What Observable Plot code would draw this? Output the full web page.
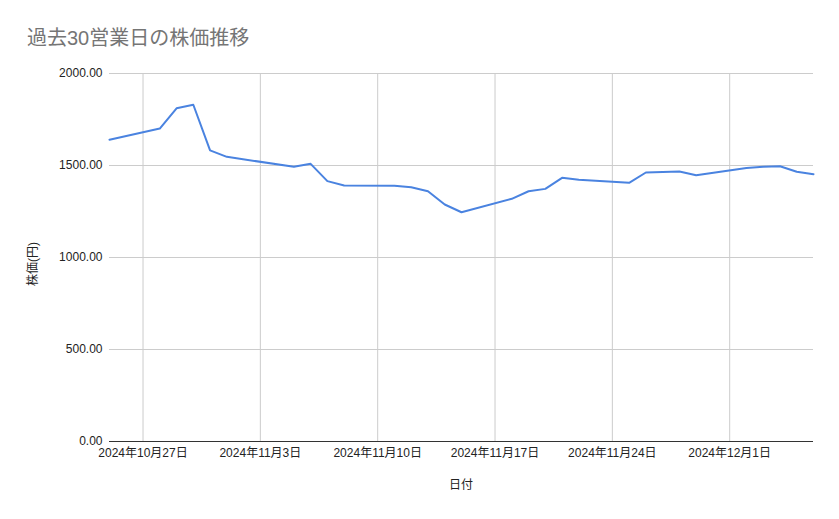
<!DOCTYPE html>
<html><head><meta charset="utf-8">
<script src="https://cdn.jsdelivr.net/npm/d3@7"></script>
<script src="https://cdn.jsdelivr.net/npm/@observablehq/plot@0.6"></script>
<style>
body{margin:0;background:#fff;}
#wrap{position:relative;width:839px;height:519px;font-family:"Liberation Sans","Noto Sans CJK JP",sans-serif;}
#title{position:absolute;left:27px;top:26px;font-size:20px;line-height:24px;color:#757575;white-space:nowrap;}
#xlabel{position:absolute;left:461px;top:478px;transform:translateX(-50%);font-size:12px;line-height:14px;color:#222;white-space:nowrap;}
#ylabel{position:absolute;left:33px;top:264px;transform:translate(-50%,-50%) rotate(-90deg);font-size:12px;line-height:14px;color:#222;white-space:nowrap;}
#chart{position:absolute;left:0;top:0;}
</style></head>
<body>
<div id="wrap">
  <div id="chart"></div>
  <div id="title">過去30営業日の株価推移</div>
  <div id="xlabel">日付</div>
  <div id="ylabel">株価(円)</div>
</div>
<script>
const dates = ["2024-10-25","2024-10-28","2024-10-29","2024-10-30","2024-10-31","2024-11-01",
  "2024-11-05","2024-11-06","2024-11-07","2024-11-08",
  "2024-11-11","2024-11-12","2024-11-13","2024-11-14","2024-11-15",
  "2024-11-18","2024-11-19","2024-11-20","2024-11-21","2024-11-22",
  "2024-11-25","2024-11-26","2024-11-27","2024-11-28","2024-11-29",
  "2024-12-02","2024-12-03","2024-12-04","2024-12-05","2024-12-06"];
const prices = [1640,1701,1811,1830,1582,1547,
  1493,1509,1415,1391,
  1390,1382,1360,1288,1246,
  1319,1360,1373,1433,1422,
  1406,1462,1465,1467,1447,
  1487,1493,1496,1466,1453];
const xTicks = ["2024-10-27","2024-11-03","2024-11-10","2024-11-17","2024-11-24","2024-12-01"];
const yTicks = [0,500,1000,1500,2000];

const data = dates.map((d,i)=>({date:new Date(d+"T00:00:00Z"), price:prices[i]}));
const xt = xTicks.map(d=>new Date(d+"T00:00:00Z"));
const fmtDate = d => `${d.getUTCFullYear()}年${d.getUTCMonth()+1}月${d.getUTCDate()}日`;

const chart = Plot.plot({
  width: 839, height: 519,
  marginLeft: 109, marginRight: 26, marginTop: 73, marginBottom: 78,
  style: {fontFamily: '"Liberation Sans","Noto Sans CJK JP",sans-serif', fontSize: "12px", color: "#222", background: "#fff"},
  x: {type: "utc", domain: [data[0].date, data[data.length-1].date]},
  y: {domain: [0, 2000]},
  marks: [
    Plot.gridX(xt, {stroke: "#cccccc", strokeOpacity: 1}),
    Plot.gridY(yTicks.filter(v=>v>0), {stroke: "#cccccc", strokeOpacity: 1}),
    Plot.ruleY([0], {stroke: "#333"}),
    Plot.axisX(xt, {tickSize: 0, tickPadding: 7, tickFormat: fmtDate, label: null, fontSize: 12}),
    Plot.axisY(yTicks, {tickSize: 0, tickPadding: 7, tickFormat: v => v.toFixed(2), label: null, fontSize: 12}),
    Plot.line(data, {x: "date", y: "price", stroke: "#4a83e0", strokeWidth: 2})
  ]
});
document.getElementById("chart").appendChild(chart);
</script>
</body></html>
